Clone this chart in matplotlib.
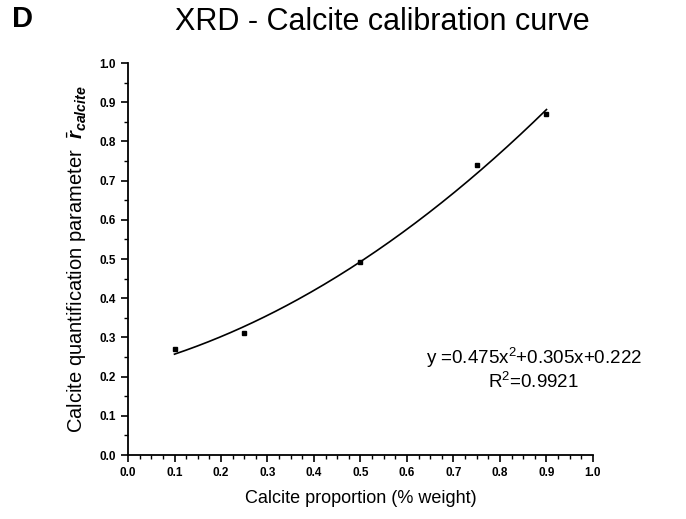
import numpy as np
import matplotlib.pyplot as plt
from matplotlib.ticker import MultipleLocator

plt.rcParams['font.family'] = ['Liberation Sans', 'DejaVu Sans']
plt.rcParams['mathtext.fontset'] = 'custom'
plt.rcParams['mathtext.rm'] = 'Liberation Sans'
plt.rcParams['mathtext.it'] = 'Liberation Sans:italic'
plt.rcParams['mathtext.bf'] = 'Liberation Sans:bold'
plt.rcParams['mathtext.bfit'] = 'Liberation Sans:bold:italic'

# measured points
proportion = [0.1, 0.25, 0.5, 0.75, 0.9]
r_calcite = [0.27, 0.31, 0.493, 0.74, 0.87]

# quadratic fit coefficients (as printed on the chart)
fit_a, fit_b, fit_c = 0.475, 0.305, 0.222

fig = plt.figure(figsize=(6.86, 5.19), dpi=100)
ax = fig.add_axes([0.1866, 0.1233, 0.6778, 0.7553])

xf = np.linspace(min(proportion), max(proportion), 200)
ax.plot(xf, fit_a * xf**2 + fit_b * xf + fit_c, color='black', lw=1.2)
ax.plot(proportion, r_calcite, 's', color='black', ms=3.5)

ax.set_xlim(0, 1.0)
ax.set_ylim(0, 1.0)
ax.xaxis.set_major_locator(MultipleLocator(0.1))
ax.xaxis.set_minor_locator(MultipleLocator(0.025))
ax.yaxis.set_major_locator(MultipleLocator(0.1))
ax.yaxis.set_minor_locator(MultipleLocator(0.05))
ax.spines['top'].set_visible(False)
ax.spines['right'].set_visible(False)
for s in ('left', 'bottom'):
    ax.spines[s].set_linewidth(1.3)
ax.tick_params(which='major', direction='out', length=5, width=1.2, labelsize=8.5)
ax.tick_params(which='minor', direction='out', length=3, width=1.0)
ax.xaxis.set_major_formatter(plt.FuncFormatter(lambda v, p: f'{v:.1f}'))
ax.yaxis.set_major_formatter(plt.FuncFormatter(lambda v, p: f'{v:.1f}'))
for lbl in ax.get_xticklabels() + ax.get_yticklabels():
    lbl.set_fontweight('bold')

ax.set_xlabel('Calcite proportion (% weight)', fontsize=13, labelpad=8)
ax.set_ylabel(r'Calcite quantification parameter  $\bar{\mathbfit{r}}_{\mathbfit{calcite}}$',
              fontsize=14.5, labelpad=8)

ax.text(0.873, 0.247, r'y =0.475x$^2$+0.305x+0.222', fontsize=13.5, ha='center',
        va='center', transform=ax.transAxes)
ax.text(0.873, 0.186, r'R$^2$=0.9921', fontsize=13.5, ha='center',
        va='center', transform=ax.transAxes)

fig.text(0.558, 0.958, 'XRD - Calcite calibration curve', fontsize=22, ha='center', va='center')
fig.text(0.018, 0.963, 'D', fontsize=21, fontweight='bold', ha='left', va='center')

plt.savefig('out.png', dpi=100)
